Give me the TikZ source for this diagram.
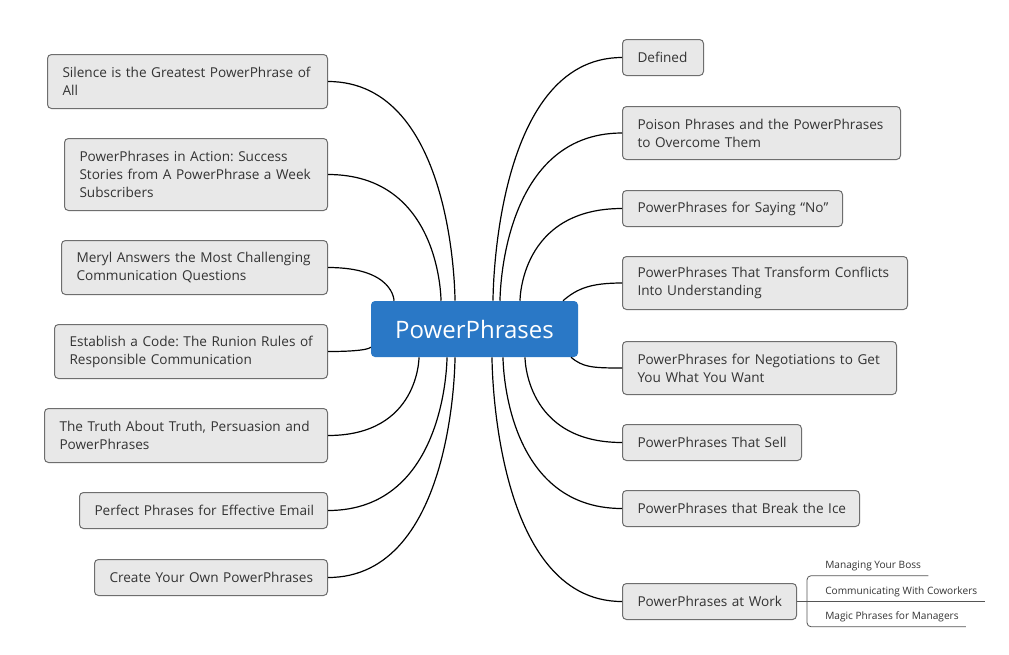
\documentclass[tikz,border=0pt]{standalone}
\usepackage{fontspec}
\setmainfont{Open Sans}
\frenchspacing
\definecolor{boxfill}{HTML}{E8E8E8}
\definecolor{boxline}{HTML}{6E6E6E}
\definecolor{txt}{HTML}{333333}
\definecolor{central}{HTML}{2A78C6}
\definecolor{subline}{HTML}{555555}
\begin{document}
\begin{tikzpicture}[x=0.75pt,y=-0.75pt,
  topic/.style={draw=boxline, fill=boxfill, line width=0.75pt, rounded corners=3pt,
    text=txt, font=\fontsize{10.2}{13.5}\selectfont, align=left,
    inner xsep=11.25pt, inner ysep=0pt},
  ltopic/.style={topic, anchor=north east},
  rtopic/.style={topic, anchor=north west},
  centraltopic/.style={fill=central, draw=none, rounded corners=3pt, text=white,
    font=\fontsize{18}{22}\selectfont, minimum width=155.25pt, minimum height=42pt, inner sep=0pt},
  link/.style={draw=black, line width=0.9pt},
  subtopic/.style={text=txt, font=\fontsize{7.6}{9}\selectfont, inner xsep=5.25pt, inner ysep=0pt,
    text depth=5.6pt, anchor=base west},
  subl/.style={draw=subline, line width=0.6pt}]
\useasboundingbox (0,0) rectangle (1009,654);
\fill[white] (0,0) rectangle (1009,654);

% central
\node[centraltopic] (c) at (474.5,329) {PowerPhrases};

% left topics
\node[ltopic, text width=187.5pt, minimum height=40.5pt] (l1) at (328,54) {\mbox{Silence is the Greatest PowerPhrase of}\\\mbox{All}};
\node[ltopic, text width=174.75pt, minimum height=54pt] (l2) at (328,138) {\mbox{PowerPhrases in Action: Success}\\\mbox{Stories from A PowerPhrase a Week}\\\mbox{Subscribers}};
\node[ltopic, text width=177pt, minimum height=40.5pt] (l3) at (328,240) {\mbox{Meryl Answers the Most Challenging}\\\mbox{Communication Questions}};
\node[ltopic, text width=182.25pt, minimum height=40.5pt] (l4) at (328,324) {\mbox{Establish a Code: The Runion Rules of}\\\mbox{Responsible Communication}};
\node[ltopic, text width=189.75pt, minimum height=40.5pt] (l5) at (328,408) {\mbox{The Truth About Truth, Persuasion and}\\\mbox{PowerPhrases}};
\node[ltopic, text width=163.5pt, minimum height=27pt] (l6) at (328,492) {\mbox{Perfect Phrases for Effective Email}};
\node[ltopic, text width=152.25pt, minimum height=27pt] (l7) at (328,559) {\mbox{Create Your Own PowerPhrases}};

% right topics
\node[rtopic, text width=38.25pt, minimum height=27pt] (r1) at (622,39) {\mbox{Defined}};
\node[rtopic, text width=186pt, minimum height=39.75pt] (r2) at (622,106) {\mbox{Poison Phrases and the PowerPhrases}\\\mbox{to Overcome Them}};
\node[rtopic, text width=142.5pt, minimum height=27pt] (r3) at (622,190) {\mbox{PowerPhrases for Saying “No”}};
\node[rtopic, text width=191.25pt, minimum height=39.75pt] (r4) at (622,256) {\mbox{PowerPhrases That Transform Conflicts}\\\mbox{Into Understanding}};
\node[rtopic, text width=183pt, minimum height=39.75pt] (r5) at (622,341) {\mbox{PowerPhrases for Negotiations to Get}\\\mbox{You What You Want}};
\node[rtopic, text width=111.75pt, minimum height=27pt] (r6) at (622,424) {\mbox{PowerPhrases That Sell}};
\node[rtopic, text width=155.25pt, minimum height=27pt] (r7) at (622,490) {\mbox{PowerPhrases that Break the Ice}};
\node[rtopic, text width=108pt, minimum height=27pt] (r8) at (622,583) {\mbox{PowerPhrases at Work}};

% attachment points on the central topic
\coordinate (tl1) at (c.north -| 455,0);
\coordinate (tl2) at (c.north -| 441,0);
\coordinate (tl3) at (c.north -| 394,0);
\coordinate (tl4) at (c.west |- 0,347);
\coordinate (tl5) at (c.south -| 419,0);
\coordinate (tl6) at (c.south -| 447,0);
\coordinate (tl7) at (c.south -| 455,0);
\coordinate (tr1) at (c.north -| 493,0);
\coordinate (tr2) at (c.north -| 500,0);
\coordinate (tr3) at (c.north -| 520,0);
\coordinate (tr4) at (c.north -| 563,0);
\coordinate (tr5) at (c.south -| 571,0);
\coordinate (tr6) at (c.south -| 525,0);
\coordinate (tr7) at (c.south -| 503,0);
\coordinate (tr8) at (c.south -| 492,0);

% connectors
\foreach \i in {1,...,7}{
  \draw[link] (l\i.east) .. controls (l\i.east -| tl\i) and (tl\i) .. (tl\i);
}
\foreach \i in {1,2,3,6,7,8}{
  \draw[link] (r\i.west) .. controls (r\i.west -| tr\i) and (tr\i) .. (tr\i);
}
\draw[link] (r4.west) .. controls +(-32,0) and +(14,-12) .. (tr4);
\draw[link] (r5.west) .. controls +(-30,0) and +(12,10) .. (tr5);

% subtopics of "PowerPhrases at Work"
\node[subtopic] (s1) at (818,568) {Managing Your Boss};
\node[subtopic] (s2) at (818,594) {Communicating With Coworkers};
\node[subtopic] (s3) at (818,619) {Magic Phrases for Managers};
\coordinate (br) at (807,601);
\draw[subl, rounded corners=3pt] (s1.south east) -- (s1.south -| br) -- (s3.south -| br) -- (s3.south east);
\draw[subl] (r8.east) -- (r8.east -| s2.south east);
\end{tikzpicture}
\end{document}
